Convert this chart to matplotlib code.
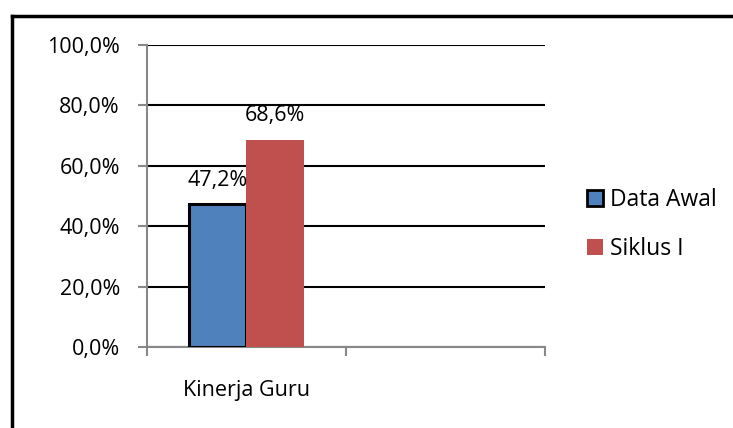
import matplotlib.pyplot as plt
from matplotlib.lines import Line2D
from matplotlib.patches import Patch

categories = ['Kinerja Guru']
series_names = ['Data Awal', 'Siklus I']
data_awal = [0.472]
siklus_1 = [0.686]
y_ticks = [0.0, 0.2, 0.4, 0.6, 0.8, 1.0]

plt.rcParams['font.family'] = ['Open Sans', 'DejaVu Sans']

fig = plt.figure(figsize=(7.33, 4.28), dpi=100)
ax = fig.add_axes([0.2005, 0.1893, 0.543, 0.7056])

w = 0.29
x = list(range(len(categories)))
b1 = ax.bar([i - w / 2 for i in x], data_awal, width=w, color='#4F81BD',
            edgecolor='black', linewidth=2.2, zorder=3)
b2 = ax.bar([i + w / 2 for i in x], siklus_1, width=w, color='#C0504D',
            linewidth=0, zorder=3)

for bars, vals in [(b1, data_awal), (b2, siklus_1)]:
    for bar, v in zip(bars, vals):
        ax.annotate(f'{v * 100:.1f}%'.replace('.', ','),
                    (bar.get_x() + bar.get_width() / 2, v),
                    xytext=(0, 10), textcoords='offset points',
                    ha='center', va='bottom', fontsize=15.5)

ax.set_xlim(-0.5, 1.5)
ax.set_ylim(0, 1.0)
ax.set_yticks(y_ticks)
ax.set_yticklabels([f'{t * 100:.1f}%'.replace('.', ',') for t in y_ticks], fontsize=15.5)
ax.yaxis.grid(True, color='black', linewidth=1.5, zorder=0)

ax.set_xticks([-0.5, 0.5, 1.5])
ax.set_xticklabels([])
ax.set_xticks(x, minor=True)
ax.set_xticklabels(categories, minor=True, fontsize=15.5)
ax.tick_params(axis='x', which='minor', length=0, pad=24)
ax.tick_params(axis='both', which='major', color='#888888', width=1.5, length=6.5)
ax.tick_params(axis='y', pad=13)

for s in ['top', 'right']:
    ax.spines[s].set_visible(False)
for s in ['left', 'bottom']:
    ax.spines[s].set_color('#888888')
    ax.spines[s].set_linewidth(1.5)

handles = [Patch(facecolor='#4F81BD', edgecolor='black', linewidth=2),
           Patch(facecolor='#C0504D', linewidth=0)]
fig.legend(handles, series_names, loc='center left', bbox_to_anchor=(0.773, 0.475),
           frameon=False, fontsize=16.5, handlelength=0.7, handleheight=0.7,
           handletextpad=0.3, labelspacing=1.1)

# outer chart frame (only left and top edges visible)
fig.add_artist(Line2D([12 / 733, 12 / 733], [0, 1 - 16 / 428], color='black', linewidth=2.5))
fig.add_artist(Line2D([12 / 733, 1], [1 - 16 / 428, 1 - 16 / 428], color='black', linewidth=2.5))

plt.savefig('out.png', dpi=100)
